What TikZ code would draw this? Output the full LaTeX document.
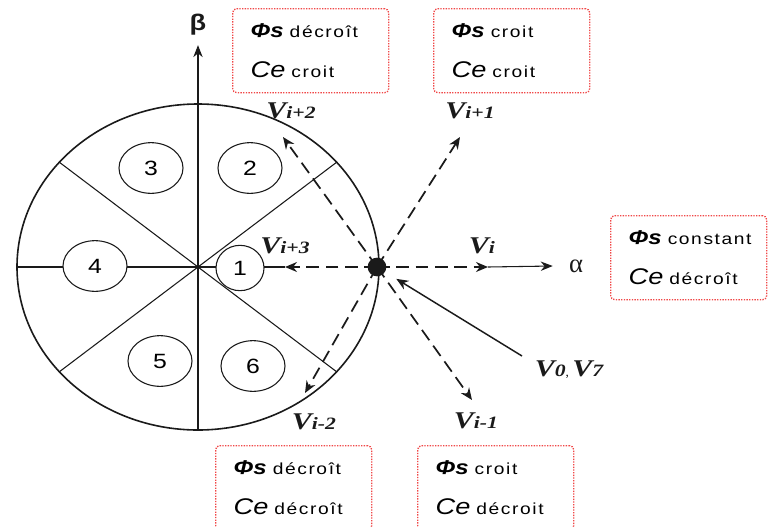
\documentclass[tikz,border=0pt]{standalone}
\usepackage{fontspec}
\setmainfont{Liberation Serif}
\newfontfamily\dtcsans[FakeStretch=1.2]{Liberation Sans}
\newfontfamily\dtcserif[FakeStretch=1.25]{Liberation Serif}
\newfontfamily\dtcword[FakeStretch=1.2,LetterSpace=10]{Liberation Sans}
\usetikzlibrary{arrows.meta,calc,positioning,shapes.geometric}
\definecolor{DtcInk}{HTML}{1A1A1A}
\definecolor{DtcRed}{HTML}{F04848}
\newcommand\phiS{{\dtcsans\fontsize{15}{15}\selectfont\bfseries\itshape Φs}}
\newcommand\ceT{{\dtcsans\fontsize{17}{17}\selectfont\itshape Ce}}
\newcommand\etat[1]{\hspace{4.5pt}{\dtcword\fontsize{12}{13}\selectfont #1}}
\newcommand\boxline[1]{\makebox[90pt][l]{#1}}
\newcommand\vlab[1]{{\dtcserif\fontsize{18}{18}\selectfont\bfseries\itshape V}{\dtcserif\fontsize{13}{13}\selectfont\bfseries\itshape #1}}
\tikzset{
  dtc box/.style={
    draw=DtcRed,
    densely dotted,
    line width=1pt,
    rounded corners=3pt,
    anchor=north west,
    align=left,
    inner xsep=13.5pt,
    minimum height=63pt,
    font=\fontsize{11}{30.5}\selectfont
  },
  dtc sector/.style={
    ellipse,
    draw=DtcInk,
    fill=white,
    line width=0.8pt,
    minimum width=48pt,
    minimum height=38pt,
    inner sep=0pt,
    font=\dtcsans\fontsize{15.5}{15}\selectfont
  },
  dtc rim/.style={draw=DtcInk,line width=1.2pt},
  dtc line/.style={draw=DtcInk,line width=0.8pt},
  dtc axis/.style={-{Stealth[length=9pt,width=7pt]},draw=DtcInk,line width=0.8pt},
  dtc vec/.style={-{Stealth[length=9pt,width=7.5pt]},draw=DtcInk,line width=1.3pt,dash pattern=on 9.5pt off 5pt},
  dtc flow/.style={-{Stealth[length=9pt,width=7.5pt]},draw=DtcInk,line width=1.1pt},
  dtc label/.style={inner sep=0pt,text=DtcInk}
}

\begin{document}
\begin{tikzpicture}[x=0.75pt,y=-0.75pt]
  \useasboundingbox (0,0) rectangle (769,526);

  \coordinate (O) at (198,267);
  \coordinate (P) at (377,267);
  \coordinate (vi) at (488,267);
  \coordinate (vi1) at (460,137);
  \coordinate (vi2) at (283,137);
  \coordinate (vi3) at (285,267);
  \coordinate (vim1) at (472,400);
  \coordinate (vim2) at (305,393);
  \coordinate (v07) at (522,356);
  \coordinate (west) at ($(O)+(180:181 and 163)$);
  \coordinate (south) at ($(O)+(90:181 and 163)$);

  \draw[dtc rim] (O) ellipse [x radius=135.75pt,y radius=122.25pt];
  \foreach \a in {40,140,220,320}
    \draw[dtc line] (O) -- ($(O)+(\a:181 and 163)$);

  \node[dtc label,font=\dtcsans\bfseries\fontsize{17}{17}\selectfont] (beta) at (198,25) {β};
  \node[dtc label,font=\fontsize{20}{20}\selectfont] (alpha) at (576,266) {α};
  \draw[dtc axis] (south) -- ([yshift=-7pt]beta.south);
  \draw[dtc line] (west) -- (vi3);
  \draw[dtc axis] (vi) -- ([xshift=-12pt]alpha.west);

  \node[dtc sector,minimum width=36pt,minimum height=34pt] (s1) at (240,268) {1};
  \node[dtc sector] (s2) at (250,168) {2};
  \node[dtc sector] (s3) at (151,168) {3};
  \node[dtc sector] (s4) at (95,266) {4};
  \node[dtc sector] (s5) at (160,361) {5};
  \node[dtc sector] (s6) at (253,366) {6};

  \draw[dtc vec] (P) -- (vi);
  \draw[dtc vec] (P) -- (vi1);
  \draw[dtc vec] (P) -- (vi2);
  \draw[dtc vec] (P) -- (vi3);
  \draw[dtc vec] (P) -- (vim1);
  \draw[dtc vec] (P) -- (vim2);
  \draw[dtc flow,shorten >=17pt] (v07) -- (P);
  \node[circle,fill=DtcInk,minimum size=14pt,inner sep=0pt] (dot) at (P) {};

  \node[dtc label] (lvi) at (482,246) {\vlab{i}};
  \node[dtc label] (lvi1) at (470,111) {\vlab{i+1}};
  \node[dtc label] (lvi2) at (291,111) {\vlab{i+2}};
  \node[dtc label] (lvi3) at (285,246) {\vlab{i+3}};
  \node[dtc label] (lvim1) at (476,421) {\vlab{i-1}};
  \node[dtc label] (lvim2) at (314,422) {\vlab{i-2}};
  \node[dtc label] (lv07) at (569,370) {\vlab{0}, \vlab{7}};

  \node[dtc box] (b1) at (232,8) {\boxline{\phiS\etat{décroît}}\\\boxline{\ceT\etat{croit}}};
  \node[dtc box] (b2) at (433,8) {\boxline{\phiS\etat{croit}}\\\boxline{\ceT\etat{croit}}};
  \node[dtc box] (b3) at (610,215) {\boxline{\phiS\etat{constant}}\\\boxline{\ceT\etat{décroît}}};
  \node[dtc box] (b4) at (215,445) {\boxline{\phiS\etat{décroît}}\\\boxline{\ceT\etat{décroît}}};
  \node[dtc box] (b5) at (417,445) {\boxline{\phiS\etat{croit}}\\\boxline{\ceT\etat{décroit}}};
\end{tikzpicture}
\end{document}
